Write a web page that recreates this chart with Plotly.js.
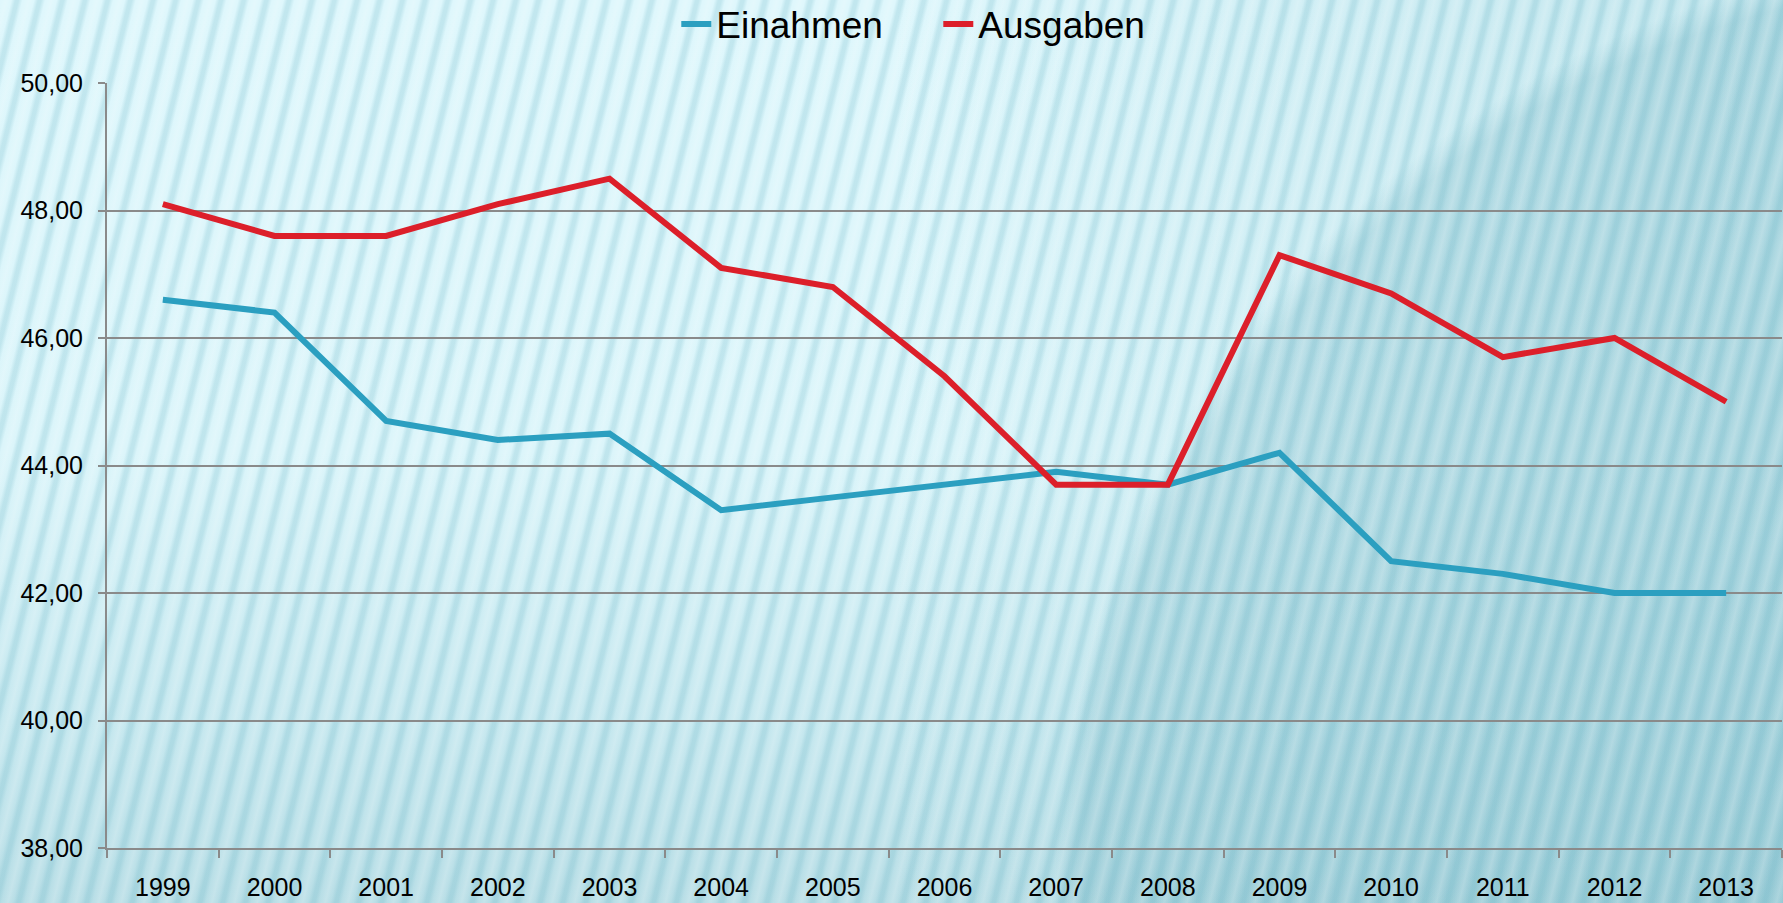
<!DOCTYPE html>
<html>
<head>
<meta charset="utf-8">
<script src="https://cdn.plot.ly/plotly-3.0.1.min.js"></script>
<style>
html,body{margin:0;padding:0;width:1783px;height:903px;overflow:hidden;}
body{
  background:
    repeating-linear-gradient(104deg, rgba(255,255,255,0) 0px, rgba(255,255,255,0.18) 6px, rgba(255,255,255,0) 11px, rgba(105,180,196,0.24) 15px, rgba(105,180,196,0.24) 18px, rgba(255,255,255,0) 22px),
    radial-gradient(circle 955px at 2000px 900px, rgba(120,182,196,0.30) 0%, rgba(120,182,196,0.30) 96%, rgba(120,182,196,0) 99%),
    linear-gradient(90deg, rgba(255,255,255,0) 0%, rgba(255,255,255,0) 50%, rgba(140,196,208,0.35) 100%),
    linear-gradient(180deg, #def7fc 0%, #dbf5fa 50%, #c6e8ef 80%, #b8dee6 100%);
}
#chart{width:1783px;height:903px;}
</style>
</head>
<body>
<div id="chart"></div>
<script>
const years = ['1999','2000','2001','2002','2003','2004','2005','2006','2007','2008','2009','2010','2011','2012','2013'];
const einahmen = [46.6, 46.4, 44.7, 44.4, 44.5, 43.3, 43.5, 43.7, 43.9, 43.7, 44.2, 42.5, 42.3, 42.0, 42.0];
const ausgaben = [48.1, 47.6, 47.6, 48.1, 48.5, 47.1, 46.8, 45.4, 43.7, 43.7, 47.3, 46.7, 45.7, 46.0, 45.0];
const yTicks = [38, 40, 42, 44, 46, 48, 50];
const yTickText = ['38,00', '40,00', '42,00', '44,00', '46,00', '48,00', '50,00'];

const traces = [
  {x: years, y: einahmen, name: 'Einahmen', type: 'scatter', mode: 'lines',
   line: {color: '#2b9fc0', width: 6}},
  {x: years, y: ausgaben, name: 'Ausgaben', type: 'scatter', mode: 'lines',
   line: {color: '#dc1f2a', width: 6}}
];

const layout = {
  width: 1783, height: 903,
  margin: {l: 107, r: 1, t: 83, b: 55},
  paper_bgcolor: 'rgba(0,0,0,0)',
  plot_bgcolor: 'rgba(0,0,0,0)',
  font: {family: 'Liberation Sans, Arial, sans-serif', color: '#000', size: 25},
  showlegend: true,
  legend: {orientation: 'h', xref: 'container', x: 0.3793, xanchor: 'left', yref: 'container', y: 0.973, yanchor: 'middle',
           font: {size: 37}, bgcolor: 'rgba(0,0,0,0)', itemwidth: 30, entrywidth: 217, entrywidthmode: 'pixels', tracegroupgap: 0},
  xaxis: {
    type: 'category', range: [-0.5, 14.5], showgrid: false, zeroline: false,
    showline: true, linecolor: '#8a8a8a', linewidth: 2,
    ticks: 'outside', ticklen: 8, tickwidth: 2, tickcolor: '#8a8a8a',
    tickson: 'boundaries', ticklabelstandoff: 16,
    tickfont: {size: 25}, fixedrange: true
  },
  yaxis: {
    range: [38, 50], tickvals: yTicks, ticktext: yTickText,
    showgrid: true, gridcolor: '#8a8a8a', gridwidth: 2, zeroline: false,
    showline: true, linecolor: '#8a8a8a', linewidth: 2,
    ticks: 'outside', ticklen: 7, tickwidth: 2, tickcolor: '#8a8a8a',
    ticklabelstandoff: 10,
    tickfont: {size: 25}, fixedrange: true
  }
};

Plotly.newPlot('chart', traces, layout, {displayModeBar: false, staticPlot: true});
</script>
</body>
</html>
